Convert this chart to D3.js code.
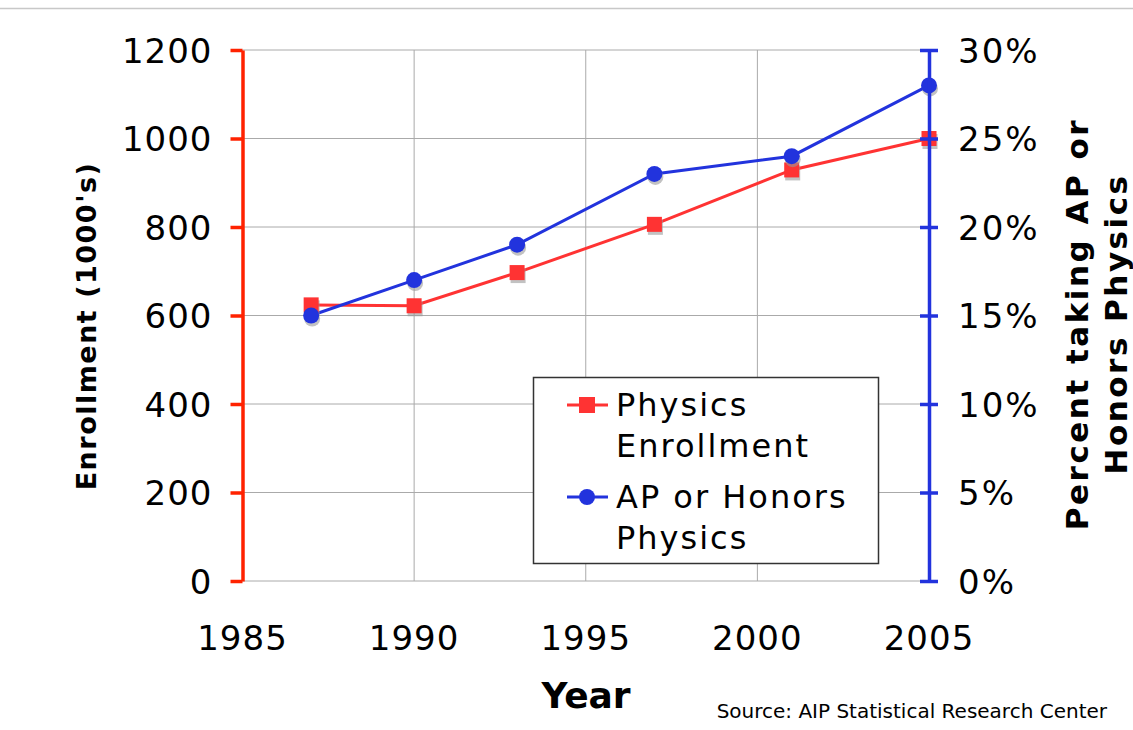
<!DOCTYPE html>
<html><head><meta charset="utf-8">
<script src="https://cdn.jsdelivr.net/npm/d3@7"></script>
<style>body{margin:0;background:#fff}svg{display:block;font-family:"DejaVu Sans",Verdana,sans-serif}</style>
</head><body><svg id="c" width="1133" height="730"></svg>
<script>
const years = [1987, 1990, 1993, 1997, 2001, 2005];
const enrollment = [624, 622, 697, 806, 929, 1000];
const apHonors = [15, 17, 19, 23, 24, 28];
const xTicks = [1985, 1990, 1995, 2000, 2005];
const yLeftTicks = [0, 200, 400, 600, 800, 1000, 1200];
const yRightTicks = [0, 5, 10, 15, 20, 25, 30];

const svg = d3.select("#c");
const RED = "#ff3333", BLUE = "#2233dd", AXRED = "#ff2200", AXBLUE = "#2233dd";
const x = d3.scaleLinear().domain([1985, 2005]).range([242.5, 929]);
const yL = d3.scaleLinear().domain([0, 1200]).range([581, 50]);
const yR = d3.scaleLinear().domain([0, 30]).range([581, 50]);

svg.append("line").attr("x1",0).attr("x2",1133).attr("y1",8.5).attr("y2",8.5).attr("stroke","#c8c8c8").attr("stroke-width",1.5);

// grid
const g = svg.append("g");
g.selectAll(".gx").data(xTicks).join("line")
  .attr("x1", d=>x(d)).attr("x2", d=>x(d)).attr("y1", yL(1200)).attr("y2", yL(0))
  .attr("stroke","#aaa").attr("stroke-width",1);
g.selectAll(".gy").data(yLeftTicks).join("line")
  .attr("x1", x(1985)).attr("x2", x(2005)).attr("y1", d=>yL(d)).attr("y2", d=>yL(d))
  .attr("stroke","#aaa").attr("stroke-width",1);

// x axis labels
svg.selectAll(".xt").data(xTicks).join("text")
  .attr("x", d=>x(d)).attr("y", 650).attr("text-anchor","middle")
  .attr("font-size", 34).attr("letter-spacing",1).text(d=>d);

// left axis
const la = svg.append("g").attr("transform",`translate(${x(1985)},0)`)
  .call(d3.axisLeft(yL).tickValues(yLeftTicks).tickSize(12).tickPadding(18).tickSizeOuter(0).tickFormat(d3.format("d")));
la.select(".domain").attr("stroke",AXRED).attr("stroke-width",3.5);
la.selectAll(".tick line").attr("stroke",AXRED).attr("stroke-width",3.5);
la.selectAll(".tick text").attr("font-size",34).attr("letter-spacing",1).attr("fill","#000").attr("font-family","DejaVu Sans").attr("dy","0.36em");

// right axis
const ra = svg.append("g").attr("transform",`translate(${x(2005)},0)`)
  .call(d3.axisRight(yR).tickValues(yRightTicks).tickSize(9).tickPadding(20).tickSizeOuter(0).tickFormat(d=>d+"%"));
ra.select(".domain").attr("stroke",AXBLUE).attr("stroke-width",3.5);
ra.selectAll(".tick line").attr("x1",-9).attr("stroke",AXBLUE).attr("stroke-width",3.5);
ra.selectAll(".tick text").attr("font-size",34).attr("letter-spacing",2).attr("fill","#000").attr("font-family","DejaVu Sans").attr("dy","0.36em");

// lines
const redData = years.map((yr,i)=>({x:yr, y:enrollment[i]}));
const blueData = years.map((yr,i)=>({x:yr, y:apHonors[i]}));
svg.append("path").datum(redData).attr("fill","none").attr("stroke",RED).attr("stroke-width",3)
  .attr("d", d3.line().x(d=>x(d.x)).y(d=>yL(d.y)));
svg.append("path").datum(blueData).attr("fill","none").attr("stroke",BLUE).attr("stroke-width",3)
  .attr("d", d3.line().x(d=>x(d.x)).y(d=>yR(d.y)));

// markers with shadows
const ms = 15;
svg.selectAll(".rs").data(redData).join("rect")
  .attr("x", d=>x(d.x)-ms/2+1).attr("y", d=>yL(d.y)-ms/2+3).attr("width",ms).attr("height",ms)
  .attr("fill","#999").attr("opacity",0.6);
svg.selectAll(".rm").data(redData).join("rect")
  .attr("x", d=>x(d.x)-ms/2).attr("y", d=>yL(d.y)-ms/2).attr("width",ms).attr("height",ms).attr("fill",RED);
svg.selectAll(".bs").data(blueData).join("circle")
  .attr("cx", d=>x(d.x)+1).attr("cy", d=>yR(d.y)+3).attr("r",8).attr("fill","#999").attr("opacity",0.6);
svg.selectAll(".bm").data(blueData).join("circle")
  .attr("cx", d=>x(d.x)).attr("cy", d=>yR(d.y)).attr("r",8).attr("fill",BLUE);

// right axis on top of the 2005 markers
svg.node().appendChild(ra.node());

// axis titles
svg.append("text").attr("x",586).attr("y",708).attr("text-anchor","middle")
  .attr("font-size",36).attr("font-weight","bold").text("Year");
svg.append("text").attr("transform","translate(96,326) rotate(-90)").attr("text-anchor","middle")
  .attr("font-size",27).attr("letter-spacing",1.5).attr("font-weight","bold").text("Enrollment (1000's)");
const rt = svg.append("text").attr("transform","translate(1088,324) rotate(-90)").attr("text-anchor","middle")
  .attr("font-size",31).attr("letter-spacing",2.5).attr("font-weight","bold");
rt.append("tspan").attr("x",0).attr("dy",0).text("Percent taking AP or");
rt.append("tspan").attr("x",0).attr("dy",39).text("Honors Physics");

svg.append("text").attr("x",1107).attr("y",718).attr("text-anchor","end")
  .attr("font-size",20).attr("letter-spacing",0).text("Source: AIP Statistical Research Center");

// legend
const lg = svg.append("g");
lg.append("rect").attr("x",533.5).attr("y",377.5).attr("width",345).attr("height",186)
  .attr("fill","#fff").attr("stroke","#333").attr("stroke-width",1.5);
const legItems = [
  {lines:["Physics","Enrollment"], color:RED, shape:"square", y:405},
  {lines:["AP or Honors","Physics"], color:BLUE, shape:"circle", y:497}
];
legItems.forEach(it=>{
  lg.append("line").attr("x1",567).attr("x2",608).attr("y1",it.y).attr("y2",it.y).attr("stroke",it.color).attr("stroke-width",3);
  if(it.shape==="square") lg.append("rect").attr("x",579).attr("y",it.y-8).attr("width",16).attr("height",16).attr("fill",it.color);
  else lg.append("circle").attr("cx",587).attr("cy",it.y).attr("r",8).attr("fill",it.color);
  const t = lg.append("text").attr("x",616).attr("y",it.y+11).attr("font-size",32).attr("letter-spacing",2);
  t.append("tspan").attr("x",616).text(it.lines[0]);
  t.append("tspan").attr("x",616).attr("dy",41).text(it.lines[1]);
});
</script></body></html>
